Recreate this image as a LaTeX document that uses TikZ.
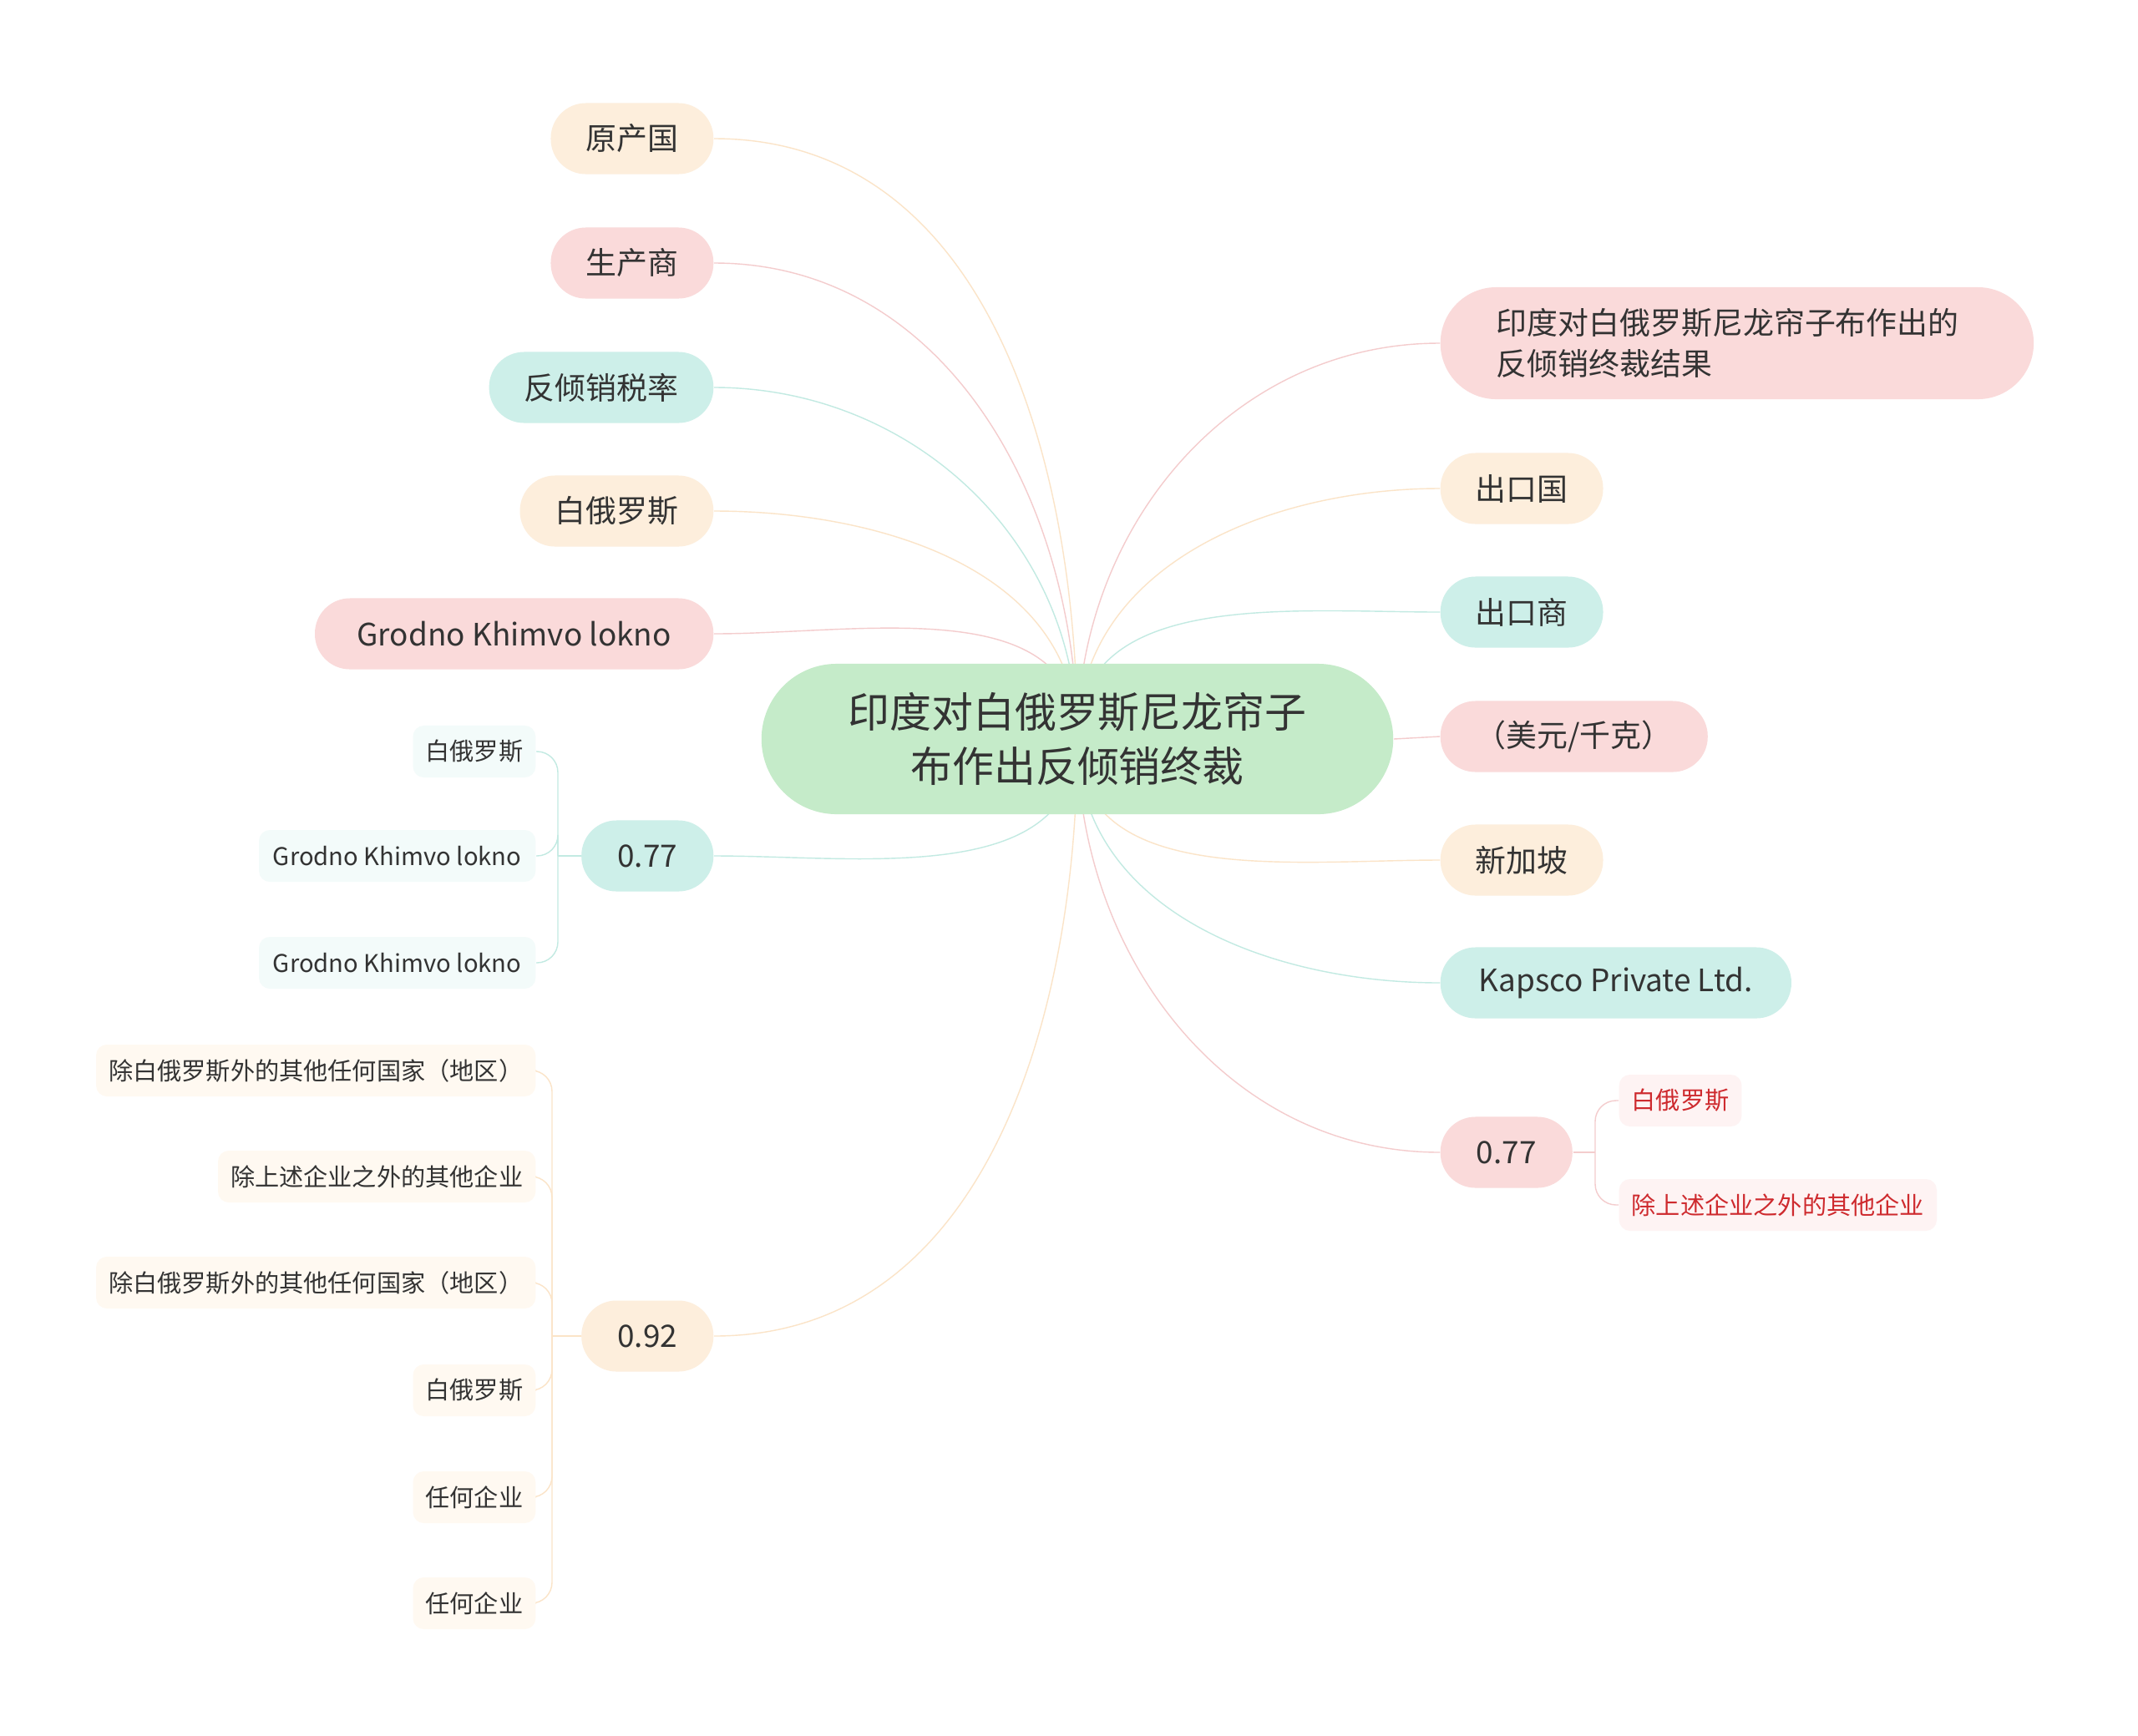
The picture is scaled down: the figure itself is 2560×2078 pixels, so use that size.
\documentclass[tikz,border=0pt]{standalone}
\usepackage{fontspec}
\setmainfont{Noto Sans CJK SC}
\usetikzlibrary{backgrounds}
\definecolor{ink}{HTML}{333333}
\definecolor{redink}{HTML}{CE2A2E}
\definecolor{mainfill}{HTML}{C5EBC9}
\definecolor{orangefill}{HTML}{FDEEDC}
\definecolor{pinkfill}{HTML}{FADADA}
\definecolor{tealfill}{HTML}{CDEFE9}
\definecolor{orangeline}{HTML}{FBE4C8}
\definecolor{pinkline}{HTML}{F4CCCD}
\definecolor{tealline}{HTML}{C2EAE2}
\definecolor{orangepale}{HTML}{FFF9F1}
\definecolor{pinkpale}{HTML}{FEF3F3}
\definecolor{tealpale}{HTML}{F3FBFA}

\begin{document}
\begin{tikzpicture}[x=0.01cm, y=-0.01cm,
                    every node/.style={text=ink},
                    topic/.style={fill=mainfill, rounded corners=0.9cm, minimum width=7.56cm,
                                  minimum height=1.8cm, align=center,
                                  font=\fontsize{14.2}{18.5}\selectfont},
                    branch/.style={rounded corners=0.42cm, minimum height=0.85cm, inner xsep=0.42cm,
                                   font=\fontsize{10.5}{14}\selectfont},
                    leaf/.style={rounded corners=0.13cm, minimum height=0.62cm, inner xsep=0.15cm,
                                 font=\fontsize{8.3}{10}\selectfont},
                    link/.style={line width=1.3pt}]
  \useasboundingbox (0,0) rectangle (2560,2078);

  \node[topic] (root) at (1290,885) {印度对白俄罗斯尼龙帘子\\布作出反倾销终裁};

  % left side
  \node[branch, fill=orangefill, anchor=east] (origin) at (855,166) {原产国};
  \node[branch, fill=pinkfill, anchor=east] (maker) at (855,315) {生产商};
  \node[branch, fill=tealfill, anchor=east] (rate) at (855,464) {反倾销税率};
  \node[branch, fill=orangefill, anchor=east] (belarus) at (855,612) {白俄罗斯};
  \node[branch, fill=pinkfill, anchor=east, minimum width=4.77cm] (grodno) at (855,759) {Grodno Khimvo lokno};
  \node[branch, fill=tealfill, anchor=east, minimum width=1.58cm] (rateA) at (855,1025) {0.77};
  \node[branch, fill=orangefill, anchor=east, minimum width=1.58cm] (rateB) at (855,1600) {0.92};

  \node[leaf, fill=tealpale, anchor=east] (a1) at (642,900) {白俄罗斯};
  \node[leaf, fill=tealpale, anchor=east, minimum width=3.31cm] (a2) at (642,1025) {Grodno Khimvo lokno};
  \node[leaf, fill=tealpale, anchor=east, minimum width=3.31cm] (a3) at (642,1153) {Grodno Khimvo lokno};

  \node[leaf, fill=orangepale, anchor=east] (b1) at (642,1282) {除白俄罗斯外的其他任何国家（地区）};
  \node[leaf, fill=orangepale, anchor=east] (b2) at (642,1409) {除上述企业之外的其他企业};
  \node[leaf, fill=orangepale, anchor=east] (b3) at (642,1536) {除白俄罗斯外的其他任何国家（地区）};
  \node[leaf, fill=orangepale, anchor=east] (b4) at (642,1665) {白俄罗斯};
  \node[leaf, fill=orangepale, anchor=east] (b5) at (642,1793) {任何企业};
  \node[leaf, fill=orangepale, anchor=east] (b6) at (642,1920) {任何企业};

  % right side
  \node[branch, fill=pinkfill, anchor=west, align=left, text width=5.76cm, minimum height=1.34cm,
        rounded corners=0.67cm, inner xsep=0.67cm] (result) at (1724,411)
        {印度对白俄罗斯尼龙帘子布作出的\\反倾销终裁结果};
  \node[branch, fill=orangefill, anchor=west] (country) at (1724,585) {出口国};
  \node[branch, fill=tealfill, anchor=west] (exporter) at (1724,733) {出口商};
  \node[branch, fill=pinkfill, anchor=west] (unit) at (1724,882) {（美元/千克）};
  \node[branch, fill=orangefill, anchor=west] (singapore) at (1724,1030) {新加坡};
  \node[branch, fill=tealfill, anchor=west, minimum width=4.2cm] (kapsco) at (1724,1177) {Kapsco Private Ltd.};
  \node[branch, fill=pinkfill, anchor=west, minimum width=1.58cm] (rateC) at (1724,1380) {0.77};

  \node[leaf, fill=pinkpale, anchor=west, text=redink] (c1) at (1938,1318) {白俄罗斯};
  \node[leaf, fill=pinkpale, anchor=west, text=redink] (c2) at (1938,1443) {除上述企业之外的其他企业};

  \coordinate (forkA) at (668,1025);
  \coordinate (forkB) at (661,1600);
  \coordinate (forkC) at (1910,1380);

  \begin{scope}[on background layer, link]
    \fill[white] (0,0) rectangle (2560,2078);
    \draw[orangeline] (root.center) to[out=90, in=0] (origin.east);
    \draw[pinkline] (root.center) to[out=90, in=0] (maker.east);
    \draw[tealline] (root.center) to[out=90, in=0] (rate.east);
    \draw[orangeline] (root.center) to[out=90, in=0] (belarus.east);
    \draw[pinkline] (root.center) to[out=90, in=0] (grodno.east);
    \draw[tealline] (root.center) to[out=-90, in=0] (rateA.east);
    \draw[orangeline] (root.center) to[out=-90, in=0] (rateB.east);

    \draw[pinkline] (root.center) to[out=90, in=180] (result.west);
    \draw[orangeline] (root.center) to[out=90, in=180] (country.west);
    \draw[tealline] (root.center) to[out=90, in=180] (exporter.west);
    \draw[pinkline] (root.east) -- (unit.west);
    \draw[orangeline] (root.center) to[out=-90, in=180] (singapore.west);
    \draw[tealline] (root.center) to[out=-90, in=180] (kapsco.west);
    \draw[pinkline] (root.center) to[out=-90, in=180] (rateC.west);

    % brackets
    \draw[tealline] (rateA.west) -- (forkA);
    \foreach \n in {a1,a2,a3}
      \draw[tealline, rounded corners=0.25cm] (forkA) |- (\n.east);
    \draw[orangeline] (rateB.west) -- (forkB);
    \foreach \n in {b1,b2,b3,b4,b5,b6}
      \draw[orangeline, rounded corners=0.25cm] (forkB) |- (\n.east);
    \draw[pinkline] (rateC.east) -- (forkC);
    \foreach \n in {c1,c2}
      \draw[pinkline, rounded corners=0.25cm] (forkC) |- (\n.west);
  \end{scope}
\end{tikzpicture}
\end{document}
